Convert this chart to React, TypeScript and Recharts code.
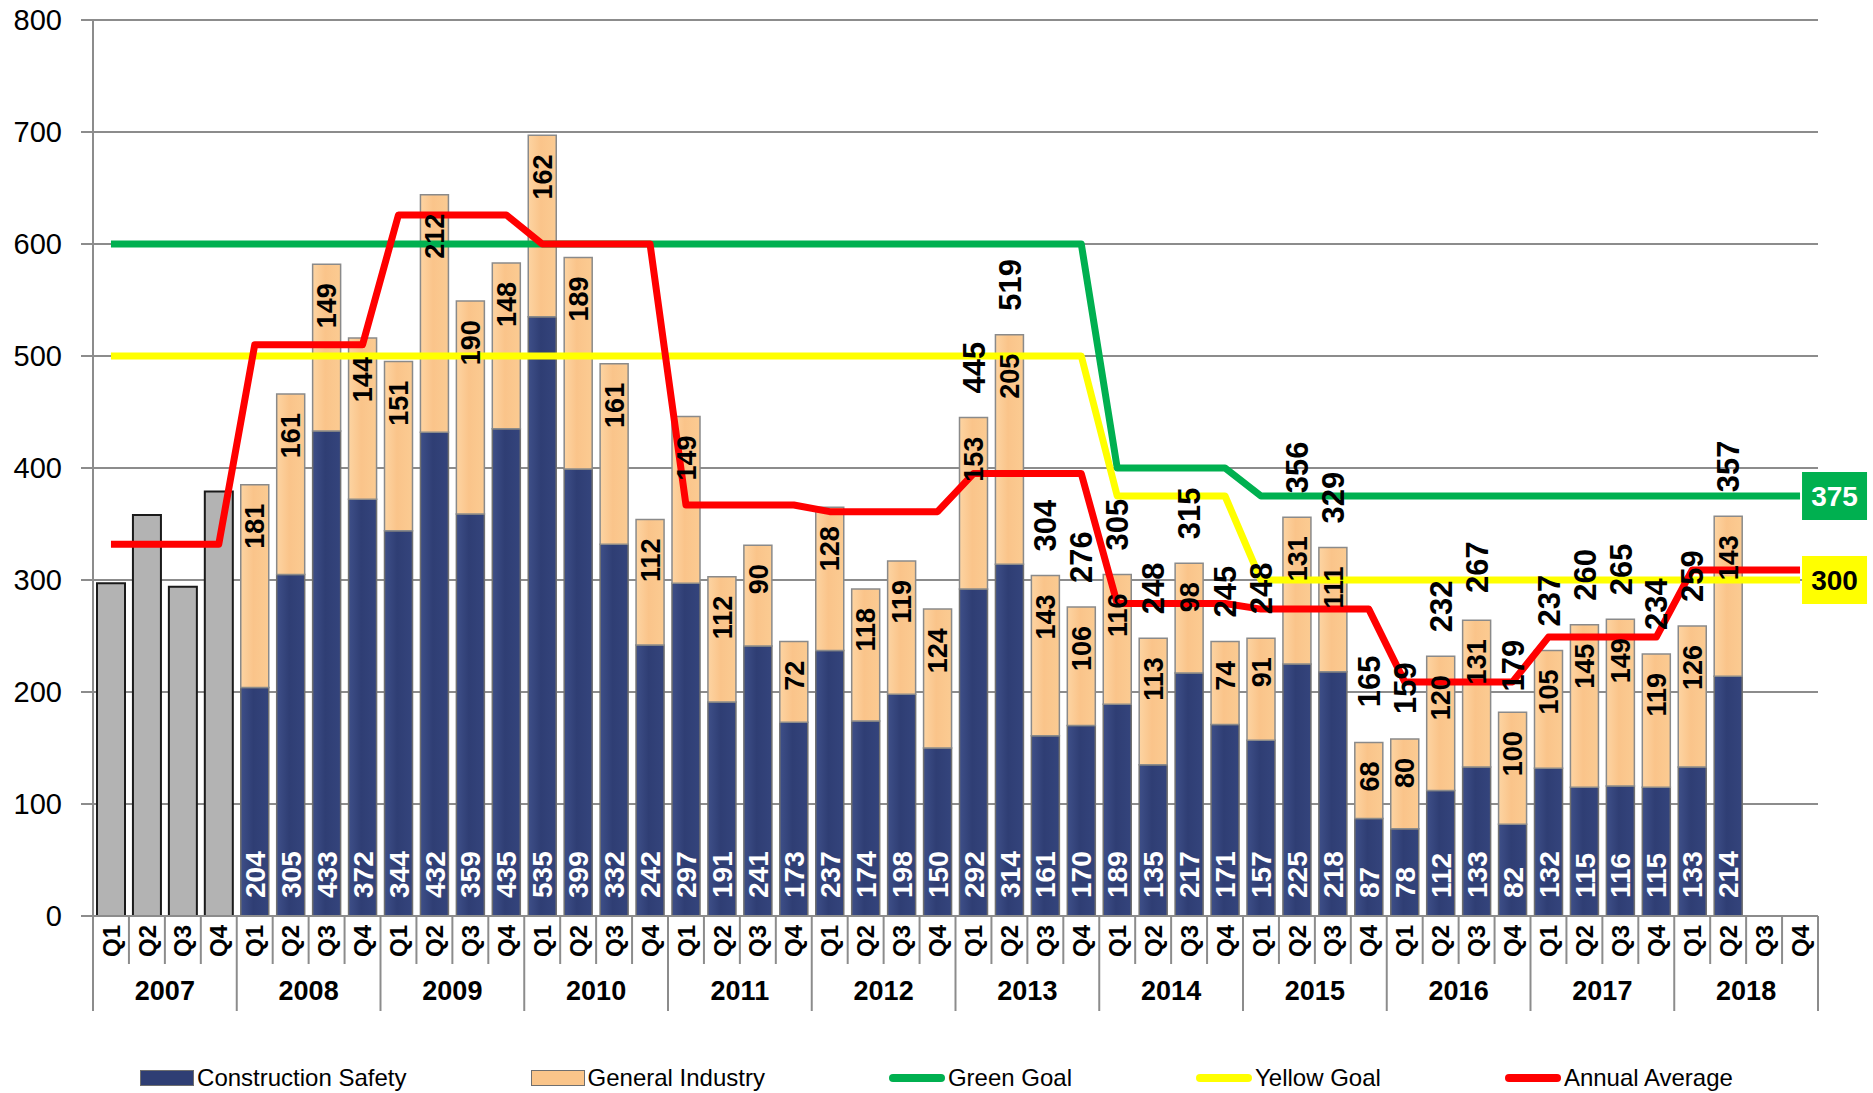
import React from 'react';
import { ComposedChart, Bar, Line, XAxis, YAxis, CartesianGrid, Legend, LabelList } from 'recharts';

const years = ['2007', '2008', '2009', '2010', '2011', '2012', '2013', '2014', '2015', '2016', '2017', '2018'];
const quarters = ['Q1', 'Q2', 'Q3', 'Q4'];
const yTicks = [0, 100, 200, 300, 400, 500, 600, 700, 800];

// 2007 only has totals (gray bars)
const baseline2007 = [297, 358, 294, 379];

// 2008 Q1 .. 2018 Q4
const constructionSafety = [
  204, 305, 433, 372, 344, 432, 359, 435, 535, 399, 332, 242,
  297, 191, 241, 173, 237, 174, 198, 150, 292, 314, 161, 170,
  189, 135, 217, 171, 157, 225, 218, 87, 78, 112, 133, 82,
  132, 115, 116, 115, 133, 214, null, null,
];
const generalIndustry = [
  181, 161, 149, 144, 151, 212, 190, 148, 162, 189, 161, 112,
  149, 112, 90, 72, 128, 118, 119, 124, 153, 205, 143, 106,
  116, 113, 98, 74, 91, 131, 111, 68, 80, 120, 131, 100,
  105, 145, 149, 119, 126, 143, null, null,
];
// totals printed above the bars (only from 2013 on)
const totalLabels = [
  null, null, null, null, null, null, null, null, null, null, null, null,
  null, null, null, null, null, null, null, null, 445, 519, 304, 276,
  305, 248, 315, 245, 248, 356, 329, 165, 159, 232, 267, 179,
  237, 260, 265, 234, 259, 357, null, null,
];

// per year
const greenGoal = [600, 600, 600, 600, 600, 600, 600, 400, 375, 375, 375, 375];
const yellowGoal = [500, 500, 500, 500, 500, 500, 500, 375, 300, 300, 300, 300];
const annualAverage = [332, 510, 626, 600, 367, 361, 395, 279, 274, 209, 249, 309];

const data = years.flatMap((year, yi) =>
  quarters.map((quarter, qi) => {
    const k = (yi - 1) * 4 + qi;
    return {
      year,
      quarter,
      baseline: yi === 0 ? baseline2007[qi] : null,
      cs: yi === 0 ? null : constructionSafety[k],
      gi: yi === 0 ? null : generalIndustry[k],
      total: yi === 0 ? null : totalLabels[k],
      green: greenGoal[yi],
      yellow: yellowGoal[yi],
      avg: annualAverage[yi],
    };
  })
);

const W = 1873;
const H = 1093;
const FONT = '"Liberation Sans", Arial, sans-serif';
const NAVY = '#2F3E74';
const TAN = '#FAC58A';
const GRAY = '#B3B3B3';
const GREEN = '#00B050';
const YELLOW = '#FFFF00';
const RED = '#FF0000';
const LINE_GRAY = '#8C8C8C';
const PLOT_LEFT = 93;
const PLOT_RIGHT = 1818;
const CAT_W = (PLOT_RIGHT - PLOT_LEFT) / data.length;
const LAST = data.length - 1;

const box = (p: any) => {
  const vb = p.viewBox || {};
  return {
    x: p.x ?? vb.x,
    y: p.y ?? vb.y,
    width: p.width ?? vb.width ?? 0,
    height: p.height ?? vb.height ?? 0,
  };
};

const rotText = (cx: number, cy: number, anchor: string, text: any, size: number, fill: string) => (
  <text
    x={cx}
    y={cy}
    transform={`rotate(-90, ${cx}, ${cy})`}
    textAnchor={anchor}
    dy="0.36em"
    fontFamily={FONT}
    fontWeight="bold"
    fontSize={size}
    fill={fill}
  >
    {text}
  </text>
);

const CsLabel = (props: any) => {
  if (props.value == null) return null;
  const { x, y, width, height } = box(props);
  return rotText(x + width / 2, y + height - 18, 'start', props.value, 28, '#fff');
};

const GiLabel = (props: any) => {
  if (props.value == null) return null;
  const { x, y, width } = box(props);
  return rotText(x + width / 2, y + 19, 'end', props.value, 27, '#000');
};

const TotalLabel = (props: any) => {
  if (props.value == null) return null;
  const { x, y } = box(props);
  return rotText(x, y - 24, 'start', props.value, 31, '#000');
};

const goalTag = (fill: string, color: string) => (props: any) => {
  if (props.index !== LAST) return null;
  const { x, y } = box(props);
  return (
    <g>
      <rect x={x + 2} y={y - 24} width={65} height={48} fill={fill} />
      <text x={x + 34.5} y={y} dy="0.36em" textAnchor="middle" fontFamily={FONT} fontWeight="bold" fontSize={28} fill={color}>
        {props.value}
      </text>
    </g>
  );
};

const QuarterTick = (props: any) => {
  const { x, y, payload } = props;
  const i = payload.index;
  const half = CAT_W / 2;
  return (
    <g>
      <line x1={x - half} y1={y} x2={x - half} y2={y + (i % 4 === 0 ? 95 : 48)} stroke={LINE_GRAY} strokeWidth={2} />
      {i === LAST && <line x1={x + half} y1={y} x2={x + half} y2={y + 95} stroke={LINE_GRAY} strokeWidth={2} />}
      {rotText(x, y + 9, 'end', payload.value, 24, '#000')}
    </g>
  );
};

const YearTick = (props: any) => {
  const { x, y, payload } = props;
  return (
    <text x={x} y={y + 24} textAnchor="middle" fontFamily={FONT} fontWeight="bold" fontSize={27} fill="#000">
      {payload.value}
    </text>
  );
};

const legendItems = [
  { name: 'Construction Safety', color: NAVY, kind: 'rect' },
  { name: 'General Industry', color: TAN, kind: 'rect' },
  { name: 'Green Goal', color: GREEN, kind: 'line' },
  { name: 'Yellow Goal', color: YELLOW, kind: 'line' },
  { name: 'Annual Average', color: RED, kind: 'line' },
];

const LegendContent = () => (
  <div style={{ display: 'flex', justifyContent: 'center', alignItems: 'center', gap: 124, height: 30, fontFamily: FONT, fontSize: 24 }}>
    {legendItems.map((it) => (
      <div key={it.name} style={{ display: 'flex', alignItems: 'center' }}>
        {it.kind === 'rect' ? (
          <span style={{ display: 'inline-block', width: 52, height: 14, background: it.color, border: '1.5px solid #6f6f6f' }} />
        ) : (
          <span style={{ display: 'inline-block', width: 56, height: 8, borderRadius: 4, background: it.color }} />
        )}
        <span style={{ marginLeft: 3, color: '#000' }}>{it.name}</span>
      </div>
    ))}
  </div>
);

export default function App() {
  return (
    <div style={{ position: 'absolute', left: 0, top: 0, width: W, height: H, background: '#fff', overflow: 'hidden' }}>
      <ComposedChart width={W} height={H} data={data} margin={{ top: 20, right: 55, left: 0, bottom: 0 }}>
        <defs>
          <linearGradient id="navyGrad" x1="0" y1="0" x2="1" y2="0">
            <stop offset="0%" stopColor="#3E4F88" />
            <stop offset="45%" stopColor="#2F3E74" />
            <stop offset="100%" stopColor="#34447C" />
          </linearGradient>
          <linearGradient id="tanGrad" x1="0" y1="0" x2="1" y2="0">
            <stop offset="0%" stopColor="#FDD4A2" />
            <stop offset="45%" stopColor="#FAC48A" />
            <stop offset="100%" stopColor="#FBCB92" />
          </linearGradient>
        </defs>
        <CartesianGrid vertical={false} stroke={LINE_GRAY} strokeWidth={2} />
        <XAxis
          dataKey="quarter"
          interval={0}
          height={60}
          tickSize={0}
          tickMargin={0}
          tickLine={false}
          axisLine={{ stroke: LINE_GRAY, strokeWidth: 2 }}
          tick={<QuarterTick />}
        />
        <XAxis
          xAxisId="year"
          dataKey="year"
          allowDuplicatedCategory={false}
          interval={0}
          height={87}
          tickSize={0}
          tickMargin={0}
          tickLine={false}
          axisLine={false}
          tick={<YearTick />}
        />
        <YAxis
          domain={[0, 800]}
          ticks={yTicks}
          width={93}
          tickSize={12}
          tickMargin={19}
          tickLine={{ stroke: LINE_GRAY, strokeWidth: 2 }}
          axisLine={{ stroke: LINE_GRAY, strokeWidth: 2 }}
          tick={{ fontFamily: FONT, fontSize: 29, fill: '#000' }}
        />
        <Legend verticalAlign="bottom" content={<LegendContent />} wrapperStyle={{ left: 0, width: W, height: 30, bottom: 0 }} />
        <Bar dataKey="baseline" stackId="q" fill={GRAY} stroke="#1a1a1a" strokeWidth={2} barSize={28} legendType="none" isAnimationActive={false} />
        <Bar dataKey="cs" name="Construction Safety" stackId="q" fill="url(#navyGrad)" stroke="#707070" strokeWidth={1.5} barSize={28} isAnimationActive={false}>
          <LabelList dataKey="cs" content={CsLabel} />
        </Bar>
        <Bar dataKey="gi" name="General Industry" stackId="q" fill="url(#tanGrad)" stroke="#8a8a8a" strokeWidth={1.5} barSize={28} isAnimationActive={false}>
          <LabelList dataKey="gi" content={GiLabel} />
        </Bar>
        <Line dataKey="green" name="Green Goal" stroke={GREEN} strokeWidth={7} dot={false} activeDot={false} strokeLinejoin="round" isAnimationActive={false}>
          <LabelList dataKey="green" content={goalTag(GREEN, '#fff')} />
        </Line>
        <Line dataKey="yellow" name="Yellow Goal" stroke={YELLOW} strokeWidth={7} dot={false} activeDot={false} strokeLinejoin="round" isAnimationActive={false}>
          <LabelList dataKey="yellow" content={goalTag(YELLOW, '#000')} />
        </Line>
        <Line dataKey="avg" name="Annual Average" stroke={RED} strokeWidth={7} dot={false} activeDot={false} strokeLinejoin="round" isAnimationActive={false} />
        <Line dataKey="total" stroke="none" dot={false} activeDot={false} legendType="none" isAnimationActive={false}>
          <LabelList dataKey="total" content={TotalLabel} />
        </Line>
      </ComposedChart>
    </div>
  );
}
